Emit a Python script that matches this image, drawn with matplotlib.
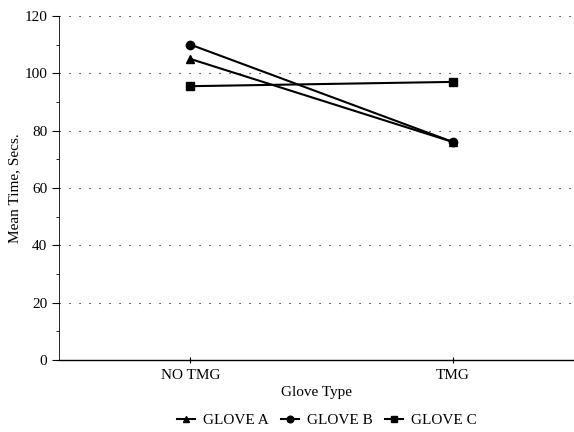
import matplotlib
matplotlib.use("Agg")
import matplotlib.pyplot as plt
from matplotlib.ticker import MultipleLocator

plt.rcParams['font.family'] = ['Liberation Serif', 'DejaVu Serif']

categories = ["NO TMG", "TMG"]
glove_a = [105, 76]
glove_b = [110, 76]
glove_c = [95.5, 97]

fig = plt.figure(figsize=(5.74, 4.32), dpi=100)
ax = fig.add_axes([0.103, 0.167, 0.897, 0.796])

x = [1, 2]
ax.plot(x, glove_a, color="black", lw=1.5, marker="^", ms=6, label="GLOVE A")
ax.plot(x, glove_b, color="black", lw=1.5, marker="o", ms=6, label="GLOVE B")
ax.plot(x, glove_c, color="black", lw=1.5, marker="s", ms=6, label="GLOVE C")

ax.set_xlim(0.5, 2.46)
ax.set_ylim(0, 120)
ax.set_xticks(x)
ax.set_xticklabels(categories)
ax.yaxis.set_major_locator(MultipleLocator(20))
ax.yaxis.set_minor_locator(MultipleLocator(10))
ax.tick_params(axis="y", which="major", length=5, direction="out", labelsize=11)
ax.tick_params(axis="y", which="minor", length=2, direction="out")
ax.tick_params(axis="x", length=5, direction="inout", labelsize=11, pad=4)
ax.grid(axis="y", linestyle=(0, (1, 8)), color="black", lw=0.8)

for side in ["top", "right"]:
    ax.spines[side].set_visible(False)
ax.spines["left"].set_linewidth(0.6)
ax.spines["bottom"].set_linewidth(1.0)

ax.set_xlabel("Glove Type", fontsize=11, labelpad=3)
ax.set_ylabel("Mean Time, Secs.", fontsize=11, labelpad=2)

ax.legend(loc="center", bbox_to_anchor=(0.52, -0.175), ncol=3, frameon=False,
          fontsize=11, handlelength=1.2, handletextpad=0.5, columnspacing=0.8,
          markerscale=0.8)

plt.savefig("out.png", dpi=100)
plt.close()
